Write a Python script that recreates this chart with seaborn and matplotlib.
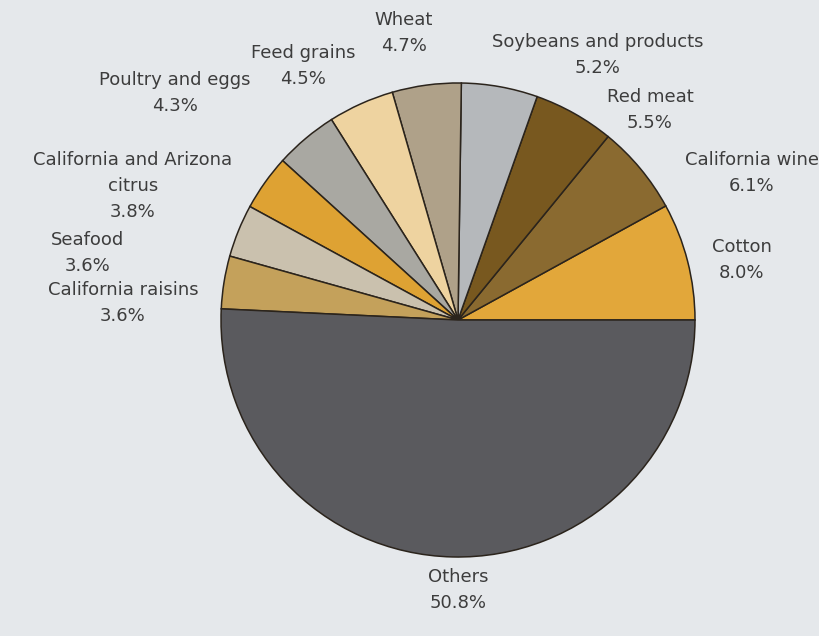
import seaborn as sns
import matplotlib.pyplot as plt

sns.set_theme(style="white")
plt.rcParams['font.family'] = ['DejaVu Sans']

# data (counter-clockwise from 3 o'clock)
categories = ["Cotton", "California wine", "Red meat", "Soybeans and products",
              "Wheat", "Feed grains", "Poultry and eggs",
              "California and Arizona\ncitrus", "Seafood", "California raisins", "Others"]
shares = [8.0, 6.1, 5.5, 5.2, 4.7, 4.5, 4.3, 3.8, 3.6, 3.6, 50.8]
colors = ["#e2a73a", "#8a6a30", "#78581f", "#b5b8bb", "#afa189", "#eed3a0",
          "#a9a8a2", "#dea233", "#cac1ae", "#c4a15b", "#5a5a5e"]

# label block centres in pixels (x from left, y from top)
label_px = [(742, 260), (752, 173), (650, 110), (598, 55), (404, 33), (303, 66),
            (175, 93), (133, 186), (88, 253), (123, 303), (458, 590)]

bg = "#e5e8eb"
W, H = 820, 636
cx, cy, R = 458, 320, 237

fig = plt.figure(figsize=(8.2, 6.36), dpi=100, facecolor=bg)
ax = fig.add_axes([0, 0, 1, 1])
ax.set_facecolor(bg)

ax.pie(shares, colors=colors, startangle=0, counterclock=True,
       wedgeprops=dict(edgecolor="#2b241c", linewidth=1.1))

ax.set_xlim(-cx / R, (W - cx) / R)
ax.set_ylim(-(H - cy) / R, cy / R)
ax.set_aspect("equal")
ax.axis("off")

for name, val, (px, py) in zip(categories, shares, label_px):
    ax.text((px - cx) / R, (cy - py) / R, f"{name}\n{val:.1f}%",
            ha="center", va="center", multialignment="center",
            fontsize=13, color="#3d3d3d", linespacing=1.55)

fig.savefig("out.png", dpi=100, facecolor=bg)
